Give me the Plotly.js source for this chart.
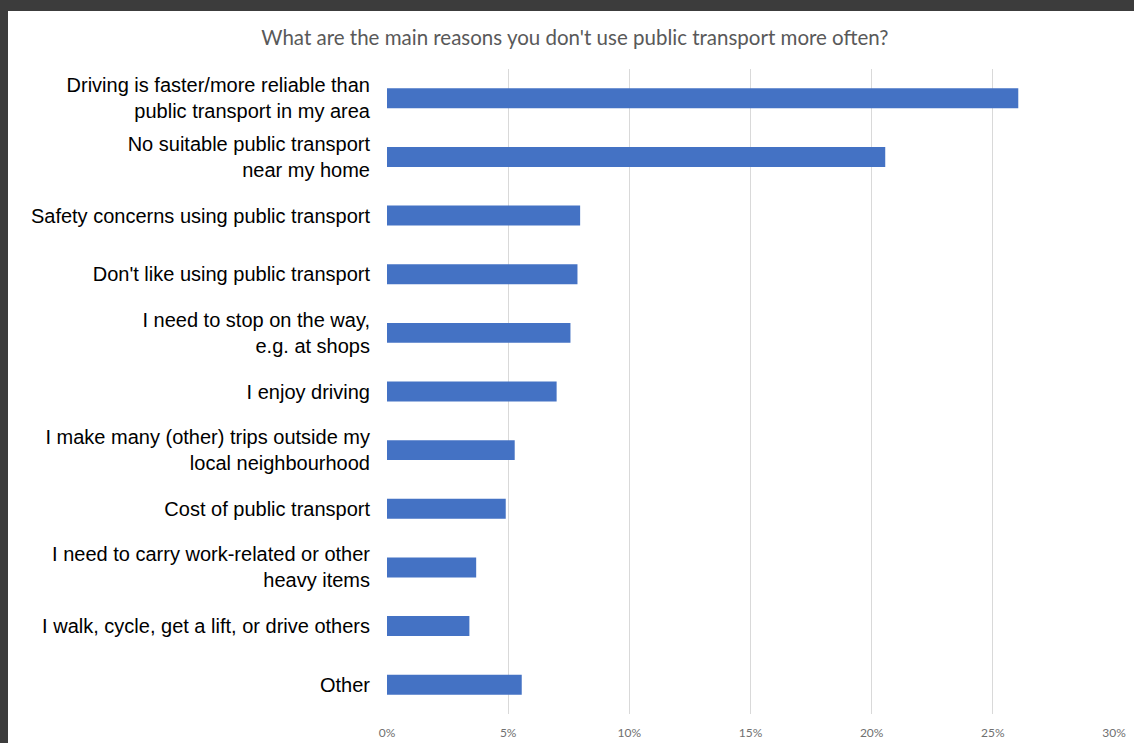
<!DOCTYPE html>
<html>
<head>
<meta charset="utf-8">
<script src="https://cdn.plot.ly/plotly-3.0.1.min.js"></script>
<style>
  html, body { margin: 0; padding: 0; background: #3c3c3c; width: 1134px; height: 743px; overflow: hidden; }
  #chart { position: absolute; left: 8px; top: 11px; width: 1126px; height: 732px; background: #ffffff; }
</style>
</head>
<body>
<div id="chart"></div>
<script>
const chartTitle = "What are the main reasons you don't use public transport more often?";

const categories = [
  "Driving is faster/more reliable than<br>public transport in my area",
  "No suitable public transport<br>near my home",
  "Safety concerns using public transport",
  "Don't like using public transport",
  "I need to stop on the way,<br>e.g. at shops",
  "I enjoy driving",
  "I make many (other) trips outside my<br>local neighbourhood",
  "Cost of public transport",
  "I need to carry work-related or other<br>heavy items",
  "I walk, cycle, get a lift, or drive others",
  "Other"
];

const shares = [26.05, 20.56, 7.97, 7.86, 7.57, 7.0, 5.27, 4.9, 3.68, 3.4, 5.56];

const tickValues = [0, 5, 10, 15, 20, 25, 30];
const tickLabels = ["0%", "5%", "10%", "15%", "20%", "25%", "30%"];

const trace = {
  type: "bar",
  orientation: "h",
  x: shares,
  y: categories,
  width: 0.34,
  marker: { color: "#4472C4", line: { width: 0 } },
  hoverinfo: "x+y"
};

const layout = {
  width: 1126,
  height: 732,
  paper_bgcolor: "#ffffff",
  plot_bgcolor: "#ffffff",
  margin: { l: 379, r: 20, t: 58, b: 29, pad: 0 },
  showlegend: false,
  title: {
    text: chartTitle,
    font: { family: "Lato, 'Open Sans', sans-serif", size: 20.5, color: "#595959" },
    x: (262 + 888) / 2 / 1134 - 8 / 1126 + 0.0035,
    xanchor: "center",
    xref: "container",
    y: 1 - 27 / 732,
    yanchor: "middle",
    yref: "container"
  },
  xaxis: {
    range: [0, 30],
    tickmode: "array",
    tickvals: tickValues,
    ticktext: tickLabels,
    showgrid: true,
    gridcolor: "#d9d9d9",
    gridwidth: 1,
    zeroline: false,
    showline: false,
    ticks: "",
    ticklabelstandoff: 10,
    tickfont: { family: "Lato, 'Open Sans', sans-serif", size: 12, color: "#707070" },
    fixedrange: true
  },
  yaxis: {
    type: "category",
    categoryorder: "array",
    categoryarray: categories,
    autorange: "reversed",
    showgrid: false,
    zeroline: false,
    showline: false,
    ticks: "",
    ticklabelstandoff: 16,
    tickfont: { family: "'Liberation Sans', Arial, sans-serif", size: 20, color: "#000000" },
    fixedrange: true
  },
  bargap: 0.66
};

Plotly.newPlot("chart", [trace], layout, { displayModeBar: false, staticPlot: true });
</script>
</body>
</html>
